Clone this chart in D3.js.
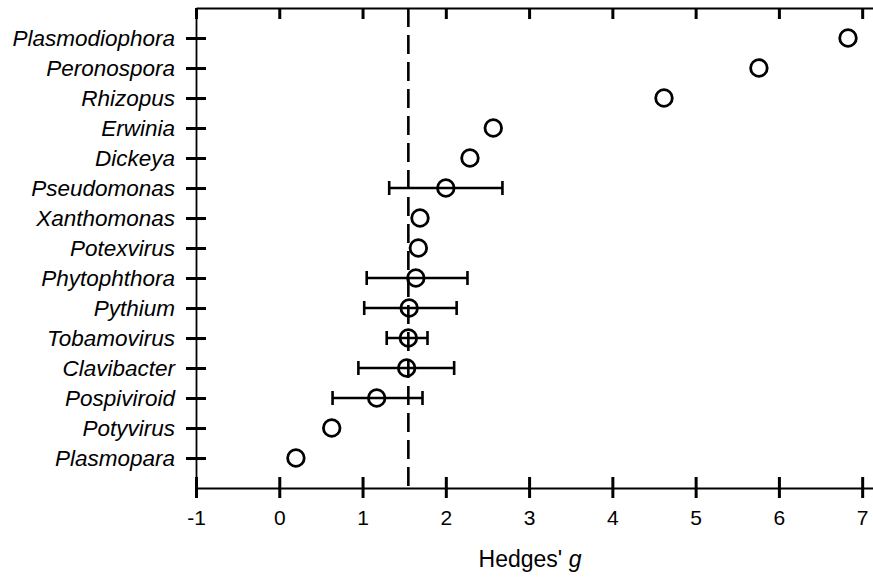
<!DOCTYPE html>
<html>
<head>
<meta charset="utf-8">
<script src="https://cdn.jsdelivr.net/npm/d3@7"></script>
<style>
  body { margin: 0; background: #fff; }
  svg { display: block; font-family: "Liberation Sans", Arial, sans-serif; }
</style>
</head>
<body>
<div id="chart"></div>
<script>
// genera, top to bottom
const genera = ["Plasmodiophora", "Peronospora", "Rhizopus", "Erwinia", "Dickeya", "Pseudomonas",
  "Xanthomonas", "Potexvirus", "Phytophthora", "Pythium", "Tobamovirus", "Clavibacter",
  "Pospiviroid", "Potyvirus", "Plasmopara"]
// Hedges' g per genus
const hedgesG = [6.83, 5.76, 4.62, 2.57, 2.29, 2.00, 1.69, 1.67, 1.64, 1.56, 1.55, 1.53, 1.17, 0.63, 0.20]
// confidence interval (null = no bar drawn)
const ciLow  = [null, null, null, null, null, 1.32, null, null, 1.05, 1.02, 1.29, 0.95, 0.64, null, null]
const ciHigh = [null, null, null, null, null, 2.68, null, null, 2.26, 2.13, 1.78, 2.10, 1.72, null, null]
const xTicks = [-1, 0, 1, 2, 3, 4, 5, 6, 7]
const meanG = 1.55

const width = 873
const height = 582
const marginLeft = 196
const marginTop = 8
const marginBottom = 94   // axis at y=488
const marginRight = 0

const svg = d3.select("#chart").append("svg")
  .attr("width", width)
  .attr("height", height)

const x = d3.scaleLinear([-1, 7.13], [marginLeft, width - marginRight])
const y = d3.scaleLinear([0, genera.length + 1], [marginTop, height - marginBottom])
const rowY = i => y(i + 1)

// bottom axis
svg.append("g")
  .attr("transform", `translate(0,${height - marginBottom})`)
  .call(d3.axisBottom(x).tickValues(xTicks).tickFormat(d => String(d)).tickSizeOuter(0).tickPadding(16))
  .call(g => g.select(".domain").attr("stroke-width", 1.8))
  .call(g => g.selectAll(".tick line").attr("y1", -11).attr("y2", 10).attr("stroke-width", 3))
  .call(g => g.selectAll(".tick text").attr("font-size", 21).attr("fill", "#000"))

// top axis, ticks only
svg.append("g")
  .attr("transform", `translate(0,${marginTop})`)
  .call(d3.axisTop(x).tickValues(xTicks).tickFormat("").tickSizeOuter(0).tickSizeInner(-11))
  .call(g => g.select(".domain").attr("stroke-width", 1.8))
  .call(g => g.selectAll(".tick line").attr("stroke-width", 3))

// left axis
svg.append("g")
  .attr("transform", `translate(${marginLeft},0)`)
  .call(d3.axisLeft(y).tickValues(d3.range(1, genera.length + 1)).tickFormat("").tickSizeOuter(0))
  .call(g => g.select(".domain").attr("stroke-width", 1.8))
  .call(g => g.selectAll(".tick line").attr("x1", 10).attr("x2", -10).attr("stroke-width", 3))

// genus labels
svg.append("g")
  .selectAll("text")
  .data(genera)
  .join("text")
  .attr("x", 175)
  .attr("y", (d, i) => rowY(i) + 8)
  .attr("text-anchor", "end")
  .attr("font-size", 22.5)
  .attr("font-style", "italic")
  .text(d => d)

// mean line
svg.append("line")
  .attr("x1", x(meanG)).attr("x2", x(meanG))
  .attr("y1", marginTop).attr("y2", height - marginBottom)
  .attr("stroke", "#000")
  .attr("stroke-width", 2.6)
  .attr("stroke-dasharray", "19,8")

// error bars
const idx = d3.range(genera.length).filter(i => ciLow[i] !== null)
const bars = svg.append("g").attr("stroke", "#000").attr("stroke-width", 2.6)
bars.selectAll(".ci").data(idx).join("line")
  .attr("x1", i => x(ciLow[i])).attr("x2", i => x(ciHigh[i]))
  .attr("y1", i => rowY(i)).attr("y2", i => rowY(i))
bars.selectAll(".capL").data(idx).join("line")
  .attr("x1", i => x(ciLow[i])).attr("x2", i => x(ciLow[i]))
  .attr("y1", i => rowY(i) - 7).attr("y2", i => rowY(i) + 7)
bars.selectAll(".capR").data(idx).join("line")
  .attr("x1", i => x(ciHigh[i])).attr("x2", i => x(ciHigh[i]))
  .attr("y1", i => rowY(i) - 7).attr("y2", i => rowY(i) + 7)

// points
svg.append("g")
  .selectAll("circle")
  .data(hedgesG)
  .join("circle")
  .attr("cx", d => x(d))
  .attr("cy", (d, i) => rowY(i))
  .attr("r", 8.3)
  .attr("fill", "none")
  .attr("stroke", "#000")
  .attr("stroke-width", 2.8)

// x label
const xl = svg.append("text")
  .attr("x", 530)
  .attr("y", 567)
  .attr("text-anchor", "middle")
  .attr("font-size", 23)
xl.append("tspan").text("Hedges' ")
xl.append("tspan").attr("font-style", "italic").text("g")
</script>
</body>
</html>
